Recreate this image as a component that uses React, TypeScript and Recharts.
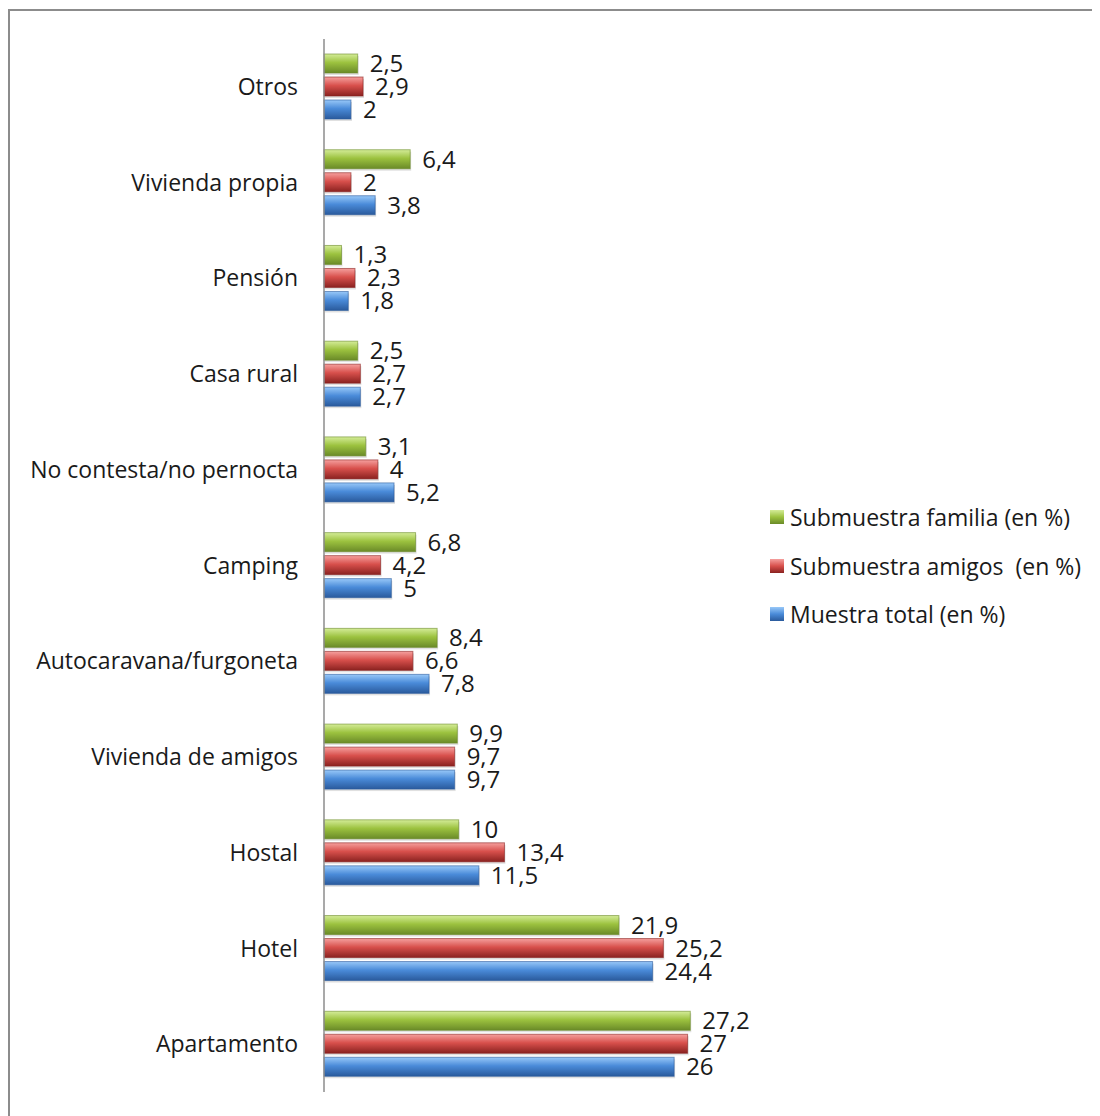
import React from "react";
import { BarChart, Bar, XAxis, YAxis, LabelList } from "recharts";

const categories = [
  "Otros",
  "Vivienda propia",
  "Pensión",
  "Casa rural",
  "No contesta/no pernocta",
  "Camping",
  "Autocaravana/furgoneta",
  "Vivienda de amigos",
  "Hostal",
  "Hotel",
  "Apartamento",
];
const familia = [2.5, 6.4, 1.3, 2.5, 3.1, 6.8, 8.4, 9.9, 10, 21.9, 27.2];
const amigos = [2.9, 2, 2.3, 2.7, 4, 4.2, 6.6, 9.7, 13.4, 25.2, 27];
const total = [2, 3.8, 1.8, 2.7, 5.2, 5, 7.8, 9.7, 11.5, 24.4, 26];

const SERIES = [
  { key: "familia", name: "Submuestra familia (en %)", id: "gGreen", stops: ["#d4ec98", "#9cc23f", "#6a8a28"] },
  { key: "amigos", name: "Submuestra amigos  (en %)", id: "gRed", stops: ["#f5a09e", "#d8504c", "#8a2220"] },
  { key: "total", name: "Muestra total (en %)", id: "gBlue", stops: ["#98c8f8", "#4a8bd9", "#2a5a9c"] },
];

const data = categories.map((name, i) => ({
  name,
  familia: familia[i],
  amigos: amigos[i],
  total: total[i],
}));

const FONT = "'Open Sans', sans-serif";

const fmt = (v: any) => String(v).replace(".", ",");

// gradient bar with a soft drop shadow and darker rim, close to the excel bevel look
const BevelBar = (props: any) => {
  const { x, y, width, height, fill, rim } = props;
  if (!width || width <= 0) return null;
  return (
    <g>
      <rect x={x + 1} y={y + 2} width={width} height={height} fill="#000" opacity={0.12} />
      <rect x={x} y={y} width={width} height={height} fill={fill} stroke={rim} strokeOpacity={0.6} strokeWidth={1} />
    </g>
  );
};

export default function App() {
  return (
    <div
      style={{
        width: 1100,
        height: 1116,
        marginTop: 1,
        border: "2px solid #8c8c8c",
        boxSizing: "border-box",
        position: "relative",
        background: "#fff",
      }}
    >
      <BarChart
        width={1090}
        height={1100}
        data={data}
        layout="vertical"
        margin={{ top: 28, right: 372, bottom: 19, left: 0 }}
        barSize={19}
        barGap={4}
      >
        <defs>
          {SERIES.map((s) => (
            <linearGradient key={s.id} id={s.id} x1="0" y1="0" x2="0" y2="1">
              <stop offset="0%" stopColor={s.stops[0]} />
              <stop offset="45%" stopColor={s.stops[1]} />
              <stop offset="100%" stopColor={s.stops[2]} />
            </linearGradient>
          ))}
        </defs>
        <XAxis type="number" domain={[0, 30]} hide />
        <YAxis
          type="category"
          dataKey="name"
          width={314}
          tickLine={false}
          tickSize={0}
          tickMargin={26}
          axisLine={{ stroke: "#8c8c8c", strokeWidth: 1.5 }}
          tick={{ fill: "#1a1a1a", fontSize: 23, fontFamily: FONT }}
          interval={0}
        />
        {SERIES.map((s) => (
          <Bar
            key={s.key}
            dataKey={s.key}
            name={s.name}
            fill={`url(#${s.id})`}
            shape={<BevelBar rim={s.stops[2]} />}
            isAnimationActive={false}
          >
            <LabelList
              dataKey={s.key}
              position="right"
              offset={12}
              formatter={fmt}
              style={{ fill: "#1a1a1a", fontSize: 24, fontFamily: FONT }}
            />
          </Bar>
        ))}
      </BarChart>

      {/* legend, drawn outside so it doesn't eat into the plot width */}
      <div
        style={{
          position: "absolute",
          left: 760,
          top: 482,
          fontFamily: FONT,
          fontSize: 23,
          color: "#1a1a1a",
        }}
      >
        {SERIES.map((s) => (
          <div key={s.key} style={{ display: "flex", alignItems: "center", height: 48.5, whiteSpace: "pre" }}>
            <span
              style={{
                display: "inline-block",
                width: 14,
                height: 14,
                marginRight: 6,
                background: `linear-gradient(${s.stops[0]}, ${s.stops[1]}, ${s.stops[2]})`,
              }}
            />
            <span>{s.name}</span>
          </div>
        ))}
      </div>
    </div>
  );
}
